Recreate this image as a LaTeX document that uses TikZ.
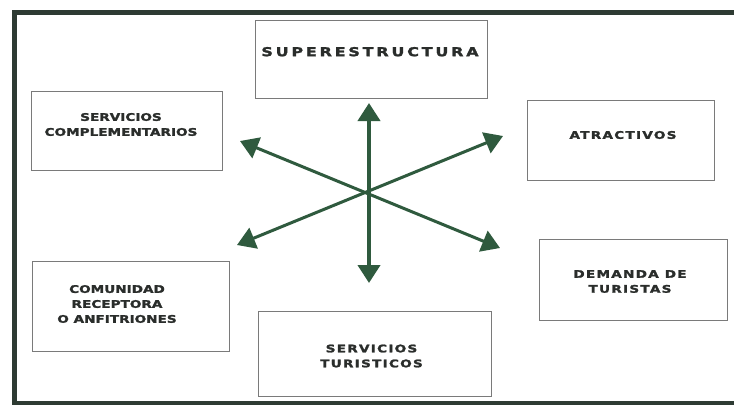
\documentclass[tikz,border=0pt]{standalone}
\usepackage{fontspec}
\usetikzlibrary{arrows.meta}
\newfontfamily\lblA[FakeStretch=1.3, FakeBold=2, LetterSpace=0]{DejaVu Sans}
\newfontfamily\lblB[FakeStretch=1.3, FakeBold=2, LetterSpace=12]{DejaVu Sans}
\newfontfamily\lblC[FakeStretch=1.3, FakeBold=2, LetterSpace=23]{DejaVu Sans}
\definecolor{framecol}{HTML}{2E3B33}
\definecolor{arrcol}{HTML}{2F5A3E}
\definecolor{boxline}{HTML}{7A7A7A}
\definecolor{txtcol}{HTML}{2A2D2B}
\begin{document}
\begin{tikzpicture}[x=1bp,y=-1bp,
  box/.style={draw=boxline, line width=0.8bp, rectangle, inner sep=0pt, outer sep=0pt},
  lbl/.style={text=txtcol, align=center, inner sep=0pt, font=\fontsize{10.5}{15}\selectfont\bfseries},
  biglbl/.style={lbl, font=\fontsize{12.3}{15}\selectfont\bfseries},
  arrowline/.style={draw=arrcol, {Triangle[length=18bp,width=22bp]}-{Triangle[length=18bp,width=22bp]}},
  framestyle/.style={draw=framecol, line width=4.5bp}]
\useasboundingbox (0,0) rectangle (734,411);
\fill[white] (0,0) rectangle (734,411);
% frame
\draw[framestyle] (734,12.5) -- (14.5,12.5) -- (14.5,403) -- (734,403);
% boxes
\node[box, minimum width=232bp, minimum height=78bp] (sup) at (371,59) {};
\node[box, minimum width=191bp, minimum height=79bp] (scomp) at (126.5,130.5) {};
\node[box, minimum width=187bp, minimum height=80bp] (atr) at (620.5,140) {};
\node[box, minimum width=188bp, minimum height=81bp] (dem) at (633,279.5) {};
\node[box, minimum width=197bp, minimum height=90bp] (com) at (130.5,306) {};
\node[box, minimum width=233bp, minimum height=85bp] (stur) at (374.5,353.5) {};
% labels
\node[biglbl] (sup-t) at (370,51.7) {\lblC SUPERESTRUCTURA};
\node[lbl] (scomp-t) at (121,124.5) {\lblA SERVICIOS\\\lblA COMPLEMENTARIOS};
\node[lbl] (atr-t) at (623,135) {\lblB ATRACTIVOS};
\node[lbl] (dem-t) at (630,281.5) {\lblB DEMANDA DE\\\lblB TURISTAS};
\node[lbl] (com-t) at (117,304) {\lblA COMUNIDAD\\\lblA RECEPTORA\\\lblA O ANFITRIONES};
\node[lbl] (stur-t) at (371.5,356) {\lblB SERVICIOS\\\lblB TURISTICOS};
% arrows
\coordinate (vt) at (369,103);
\coordinate (vb) at (369,283);
\coordinate (ul) at (240,141);
\coordinate (lr) at (500,248);
\coordinate (ur) at (503,136);
\coordinate (ll) at (237,245);
\draw[arrowline, line width=3bp] (ul) -- (lr);
\draw[arrowline, line width=3bp] (ur) -- (ll);
\draw[arrowline, line width=4bp] (vt) -- (vb);
\end{tikzpicture}
\end{document}
